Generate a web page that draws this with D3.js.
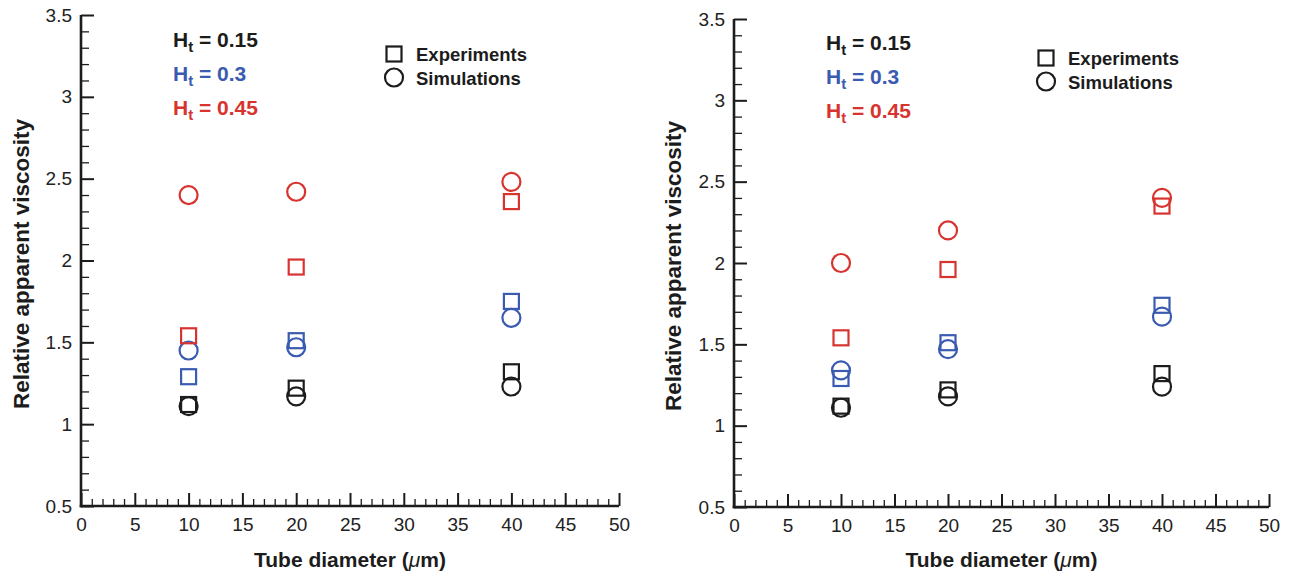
<!DOCTYPE html>
<html>
<head>
<meta charset="utf-8">
<script src="https://cdn.jsdelivr.net/npm/d3@7"></script>
<style>
  html, body { margin: 0; padding: 0; background: #fff; }
  svg { display: block; }
  text { font-family: "Liberation Sans", Arial, Helvetica, sans-serif; }
</style>
</head>
<body>
<svg id="chart" width="1299" height="581"></svg>
<script>
// ---------- data ----------
const tubeDiameters = [10, 20, 40];
const hematocritLabels = ["0.15", "0.3", "0.45"];
const seriesColors = ["#1c1c1c", "#3a5bb0", "#d7342f"];
const xTicks = [0, 5, 10, 15, 20, 25, 30, 35, 40, 45, 50];
const yTicks = [0.5, 1, 1.5, 2, 2.5, 3, 3.5];
const yTickLabels = ["0.5", "1", "1.5", "2", "2.5", "3", "3.5"];

// left panel
const leftExp015 = [1.12, 1.22, 1.32];
const leftSim015 = [1.11, 1.17, 1.23];
const leftExp03  = [1.29, 1.51, 1.75];
const leftSim03  = [1.45, 1.47, 1.65];
const leftExp045 = [1.54, 1.96, 2.36];
const leftSim045 = [2.40, 2.42, 2.48];

// right panel
const rightExp015 = [1.12, 1.22, 1.32];
const rightSim015 = [1.11, 1.18, 1.24];
const rightExp03  = [1.29, 1.51, 1.74];
const rightSim03  = [1.34, 1.47, 1.67];
const rightExp045 = [1.54, 1.96, 2.35];
const rightSim045 = [2.00, 2.20, 2.40];

const legendLabels = ["Experiments", "Simulations"];

// ---------- drawing ----------
const svg = d3.select("#chart");
const ink = "#1c1c1c";

function drawPanel(cfg, exps, sims) {
  const g = svg.append("g");
  const x = d3.scaleLinear().domain([0, 50]).range([cfg.x0, cfg.x1]);
  const y = d3.scaleLinear().domain([0.5, 3.5]).range([cfg.y0, cfg.y1]);

  // minor ticks
  const minorX = d3.range(0, 50.001, 1).filter(v => v % 5 !== 0);
  const minorY = d3.range(0.5, 3.5001, 0.1).map(v => +v.toFixed(2)).filter(v => Math.abs((v * 2) - Math.round(v * 2)) > 1e-6);

  g.append("g").attr("transform", `translate(0,${cfg.y0})`)
    .call(d3.axisBottom(x).tickValues(minorX).tickSizeInner(-7).tickSizeOuter(0).tickFormat(""))
    .call(a => a.select(".domain").remove())
    .call(a => a.selectAll(".tick line").attr("stroke", ink).attr("stroke-width", 1.3));
  g.append("g").attr("transform", `translate(${cfg.x0},0)`)
    .call(d3.axisLeft(y).tickValues(minorY).tickSizeInner(-8).tickSizeOuter(0).tickFormat(""))
    .call(a => a.select(".domain").remove())
    .call(a => a.selectAll(".tick line").attr("stroke", ink).attr("stroke-width", 1.3));

  // major axes
  const xa = g.append("g").attr("transform", `translate(0,${cfg.y0})`)
    .call(d3.axisBottom(x).tickValues(xTicks).tickSizeInner(-13).tickSizeOuter(0).tickPadding(12).tickFormat(d3.format("d")));
  const ya = g.append("g").attr("transform", `translate(${cfg.x0},0)`)
    .call(d3.axisLeft(y).tickValues(yTicks).tickSizeInner(-13).tickSizeOuter(0).tickPadding(9)
      .tickFormat((d, i) => yTickLabels[i]));
  [xa, ya].forEach(a => {
    a.select(".domain").attr("stroke", ink).attr("stroke-width", 2.6);
    a.selectAll(".tick line").attr("stroke", ink).attr("stroke-width", 2);
    a.selectAll(".tick text").attr("fill", "#222").attr("font-size", 19)
      .attr("font-family", "'Liberation Sans', Arial, sans-serif");
  });
  // extend domains to meet at corner
  xa.select(".domain").attr("d", `M${cfg.x0 - 1.3},0H${cfg.x1}`);
  ya.select(".domain").attr("d", `M0,${cfg.y1}V${cfg.y0 + 1.3}`);

  // axis titles
  const xt = g.append("text")
    .attr("x", (cfg.x0 + cfg.x1) / 2).attr("y", 567)
    .attr("text-anchor", "middle").attr("font-weight", "bold").attr("font-size", 21)
    .attr("fill", ink);
  xt.append("tspan").text("Tube diameter (");
  xt.append("tspan").attr("font-style", "italic").attr("font-weight", "normal").text("μ");
  xt.append("tspan").text("m)");

  g.append("text")
    .attr("transform", `translate(${cfg.ytitleX},${cfg.ytitleY}) rotate(-90)`)
    .attr("text-anchor", "middle").attr("font-weight", "bold").attr("font-size", 22.5)
    .attr("fill", ink).text("Relative apparent viscosity");

  // markers
  const sq = 15, r = 9;
  hematocritLabels.forEach((h, si) => {
    const col = seriesColors[si];
    g.append("g").selectAll("rect").data(exps[si]).join("rect")
      .attr("x", (d, i) => x(tubeDiameters[i]) - sq / 2)
      .attr("y", d => y(d) - sq / 2)
      .attr("width", sq).attr("height", sq)
      .attr("fill", "none").attr("stroke", col).attr("stroke-width", 2.2);
    g.append("g").selectAll("circle").data(sims[si]).join("circle")
      .attr("cx", (d, i) => x(tubeDiameters[i]))
      .attr("cy", d => y(d))
      .attr("r", r)
      .attr("fill", "none").attr("stroke", col).attr("stroke-width", 2.2);
  });

  // hematocrit labels
  hematocritLabels.forEach((h, si) => {
    const t = g.append("text")
      .attr("x", cfg.hx).attr("y", cfg.hy + si * 34)
      .attr("font-weight", "bold").attr("font-size", 21).attr("fill", seriesColors[si]);
    t.append("tspan").text("H");
    t.append("tspan").attr("font-size", 15).attr("dy", 5).text("t");
    t.append("tspan").attr("dy", -5).text(" = " + h);
  });

  // legend
  const lg = g.append("g");
  lg.append("rect").attr("x", cfg.lx - 7.5).attr("y", cfg.ly - 7.5).attr("width", 15).attr("height", 15)
    .attr("fill", "none").attr("stroke", ink).attr("stroke-width", 2.2);
  lg.append("circle").attr("cx", cfg.lx).attr("cy", cfg.ly + 23.5).attr("r", 9)
    .attr("fill", "none").attr("stroke", ink).attr("stroke-width", 2.2);
  legendLabels.forEach((lab, i) => {
    lg.append("text").attr("x", cfg.lx + 22).attr("y", cfg.ly + 7 + i * 23.5)
      .attr("font-weight", "bold").attr("font-size", 18.5).attr("fill", ink).text(lab);
  });
}

drawPanel(
  { x0: 81, x1: 619, y0: 506, y1: 15, ytitleX: 29, ytitleY: 264, hx: 173, hy: 47, lx: 394, ly: 54 },
  [leftExp015, leftExp03, leftExp045],
  [leftSim015, leftSim03, leftSim045]
);
drawPanel(
  { x0: 734, x1: 1269, y0: 507, y1: 19, ytitleX: 681, ytitleY: 266, hx: 826, hy: 50, lx: 1046, ly: 58 },
  [rightExp015, rightExp03, rightExp045],
  [rightSim015, rightSim03, rightSim045]
);
</script>
</body>
</html>
